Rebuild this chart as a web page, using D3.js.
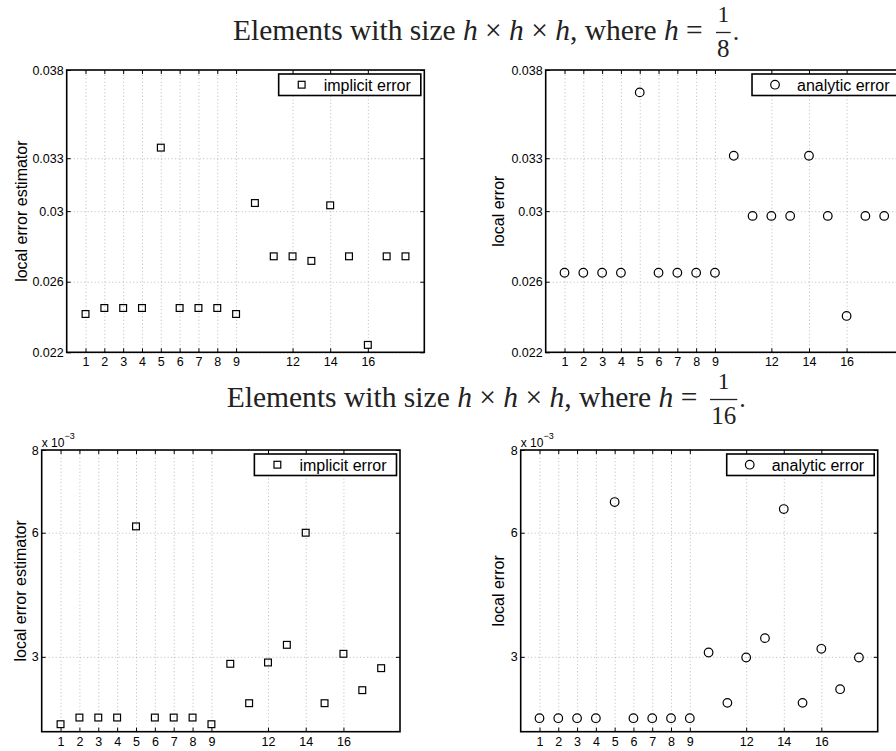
<!DOCTYPE html>
<html>
<head>
<meta charset="utf-8">
<script src="https://cdn.jsdelivr.net/npm/d3@7"></script>
<style>
  body { margin: 0; background: #fff; }
  svg { display: block; }
</style>
</head>
<body>
<div id="chart"></div>
<script>
// ------------------------------------------------------------
// DATA
// ------------------------------------------------------------
const elementIds = [1, 2, 3, 4, 5, 6, 7, 8, 9, 10, 11, 12, 13, 14, 15, 16, 17, 18];

// h = 1/8
const implicitCoarse = [0.02417, 0.02451, 0.02451, 0.02451, 0.0336, 0.02451, 0.02451, 0.02451, 0.02417,
                        0.03046, 0.02744, 0.02744, 0.02718, 0.03033, 0.02744, 0.02242, 0.02744, 0.02744];
const analyticCoarse = [0.02651, 0.02651, 0.02651, 0.02651, 0.03673, 0.02651, 0.02651, 0.02651, 0.02651,
                        0.03314, 0.02973, 0.02973, 0.02973, 0.03314, 0.02973, 0.02406, 0.02973, 0.02973];

// h = 1/16
const implicitFine = [0.001371, 0.001532, 0.001532, 0.001532, 0.006153, 0.001532, 0.001532, 0.001532, 0.001371,
                      0.002831, 0.001879, 0.002863, 0.00329, 0.006, 0.001879, 0.003073, 0.002194, 0.002726];
const analyticFine = [0.001516, 0.001516, 0.001516, 0.001516, 0.006742, 0.001516, 0.001516, 0.001516, 0.001516,
                      0.003105, 0.001887, 0.002984, 0.003452, 0.006573, 0.001887, 0.003194, 0.002218, 0.002984];

const xTickValues = [1, 2, 3, 4, 5, 6, 7, 8, 9, 12, 14, 16];
const xDomain = [0, 19];
const coarseYTicks = [0.022, 0.026, 0.03, 0.033, 0.038];
const coarseDomain = [0.022, 0.038];
const fineYTicks = [0.003, 0.006, 0.008];
const fineDomain = [0.00119, 0.008];

// ------------------------------------------------------------
// SETUP
// ------------------------------------------------------------
const width = 896, height = 751;
const svg = d3.select("#chart").append("svg")
    .attr("width", width)
    .attr("height", height);

const sans = "'Liberation Sans', Arial, Helvetica, sans-serif";
const serif = "'Liberation Serif', 'Times New Roman', serif";

const panels = [
  { x0: 66.7, x1: 424.3, y0: 70, y1: 352.3, values: implicitCoarse, domain: coarseDomain,
    ticks: coarseYTicks, fmt: d => String(d), ylabel: "local error estimator", labelX: 27,
    marker: "square", legend: "implicit error", exponent: false },
  { x0: 545.7, x1: 903, y0: 70, y1: 352.3, values: analyticCoarse, domain: coarseDomain,
    ticks: coarseYTicks, fmt: d => String(d), ylabel: "local error", labelX: 504,
    marker: "circle", legend: "analytic error", exponent: false },
  { x0: 41.7, x1: 400, y0: 450, y1: 731.7, values: implicitFine, domain: fineDomain,
    ticks: fineYTicks, fmt: d => String(Math.round(d * 1000)), ylabel: "local error estimator", labelX: 26,
    marker: "square", legend: "implicit error", exponent: true },
  { x0: 520.7, x1: 877.7, y0: 450, y1: 731.7, values: analyticFine, domain: fineDomain,
    ticks: fineYTicks, fmt: d => String(Math.round(d * 1000)), ylabel: "local error", labelX: 504,
    marker: "circle", legend: "analytic error", exponent: true }
];

// ------------------------------------------------------------
// PANELS
// ------------------------------------------------------------
panels.forEach(p => {
  const x = d3.scaleLinear().domain(xDomain).range([p.x0, p.x1]);
  const y = d3.scaleLinear().domain(p.domain).range([p.y1, p.y0]);
  const w = p.x1 - p.x0, h = p.y1 - p.y0;
  const g = svg.append("g");

  // dotted grid
  g.append("g")
      .attr("transform", `translate(0,${p.y1})`)
      .call(d3.axisBottom(x).tickValues(xTickValues).tickSize(-h).tickFormat(""))
      .call(s => s.select(".domain").remove())
      .selectAll("line")
      .attr("stroke", "#a8a8a8").attr("stroke-width", 0.8).attr("stroke-dasharray", "1,2.5");
  g.append("g")
      .attr("transform", `translate(${p.x0},0)`)
      .call(d3.axisLeft(y).tickValues(p.ticks).tickSize(-w).tickFormat(""))
      .call(s => s.select(".domain").remove())
      .selectAll("line")
      .attr("stroke", "#a8a8a8").attr("stroke-width", 0.8).attr("stroke-dasharray", "1,2.5");

  // axes with inward ticks
  const bottom = g.append("g")
      .attr("transform", `translate(0,${p.y1})`)
      .call(d3.axisBottom(x).tickValues(xTickValues).tickSizeInner(-4).tickSizeOuter(0).tickPadding(5));
  const top = g.append("g")
      .attr("transform", `translate(0,${p.y0})`)
      .call(d3.axisTop(x).tickValues(xTickValues).tickSizeInner(-4).tickSizeOuter(0).tickFormat(""));
  const left = g.append("g")
      .attr("transform", `translate(${p.x0},0)`)
      .call(d3.axisLeft(y).tickValues(p.ticks).tickFormat(p.fmt).tickSizeInner(-4).tickSizeOuter(0).tickPadding(3));
  const right = g.append("g")
      .attr("transform", `translate(${p.x1},0)`)
      .call(d3.axisRight(y).tickValues(p.ticks).tickSizeInner(-4).tickSizeOuter(0).tickFormat(""));

  [bottom, top, left, right].forEach(a => {
    a.select(".domain").remove();
    a.selectAll("line").attr("stroke", "#000").attr("stroke-width", 1);
    a.selectAll("text").attr("font-family", sans).attr("font-size", 12.5).attr("fill", "#000");
  });

  // box
  g.append("rect")
      .attr("x", p.x0).attr("y", p.y0).attr("width", w).attr("height", h)
      .attr("fill", "none").attr("stroke", "#000").attr("stroke-width", 1.6);

  // y label
  g.append("text")
      .attr("transform", `translate(${p.labelX},${(p.y0 + p.y1) / 2}) rotate(-90)`)
      .attr("text-anchor", "middle")
      .attr("font-family", sans).attr("font-size", 16)
      .text(p.ylabel);

  // x 10^-3 multiplier
  if (p.exponent) {
    const t = g.append("text")
        .attr("x", p.x0).attr("y", p.y0 - 3)
        .attr("font-family", sans).attr("font-size", 12);
    t.append("tspan").text("x 10");
    t.append("tspan").attr("dy", -8).attr("font-size", 9).text("−3");
  }

  // markers
  const pts = g.append("g");
  if (p.marker === "square") {
    pts.selectAll("rect").data(p.values).enter().append("rect")
        .attr("x", (d, i) => x(elementIds[i]) - 3.4)
        .attr("y", d => y(d) - 3.4)
        .attr("width", 6.8).attr("height", 6.8)
        .attr("fill", "none").attr("stroke", "#000").attr("stroke-width", 1.2);
  } else {
    pts.selectAll("circle").data(p.values).enter().append("circle")
        .attr("cx", (d, i) => x(elementIds[i]))
        .attr("cy", d => y(d))
        .attr("r", 4.3)
        .attr("fill", "none").attr("stroke", "#000").attr("stroke-width", 1.2);
  }

  // legend
  const lg = g.append("g");
  const box = lg.append("rect");
  const lt = lg.append("text")
      .attr("font-family", sans).attr("font-size", 16)
      .text(p.legend);
  const tw = lt.node().getComputedTextLength();
  const lw = 45 + tw + 10;
  const lx = p.x1 - 3.5 - lw, ly = p.y0 + 4;
  box.attr("x", lx).attr("y", ly).attr("width", lw).attr("height", 21.5)
      .attr("fill", "#fff").attr("stroke", "#000").attr("stroke-width", 1.6);
  lt.attr("x", lx + 45).attr("y", ly + 16.5);
  if (p.marker === "square") {
    lg.append("rect").attr("x", lx + 23 - 3.4).attr("y", ly + 10.7 - 3.4)
        .attr("width", 6.8).attr("height", 6.8)
        .attr("fill", "none").attr("stroke", "#000").attr("stroke-width", 1.2);
  } else {
    lg.append("circle").attr("cx", lx + 23).attr("cy", ly + 10.7).attr("r", 4.3)
        .attr("fill", "none").attr("stroke", "#000").attr("stroke-width", 1.2);
  }
});

// ------------------------------------------------------------
// ROW TITLES (LaTeX-like)
// ------------------------------------------------------------
function rowTitle(xStart, baseline, textWidth, denom, fracX, fracW) {
  const t = svg.append("text")
      .attr("x", xStart).attr("y", baseline)
      .attr("font-family", serif).attr("font-size", 26).attr("fill", "#222");
  const parts = [["Elements with size ", false], ["h", true], [" × ", false], ["h", true],
                 [" × ", false], ["h", true], [", where ", false], ["h", true], [" =", false]];
  parts.forEach(([s, it]) => {
    t.append("tspan").attr("font-style", it ? "italic" : "normal").text(s);
  });
  // scale the font so the sentence spans the same width as in the figure
  const natural = t.node().getComputedTextLength();
  const fs = Math.min(31, 26 * textWidth / natural);
  t.attr("font-size", fs);

  const cx = fracX + fracW / 2;
  const barY = baseline - 7.5;
  svg.append("line")
      .attr("x1", fracX).attr("x2", fracX + fracW)
      .attr("y1", barY).attr("y2", barY)
      .attr("stroke", "#222").attr("stroke-width", 1.3);
  svg.append("text").attr("x", cx).attr("y", barY - 11)
      .attr("text-anchor", "middle")
      .attr("font-family", serif).attr("font-size", 23.5).attr("fill", "#222")
      .text("1");
  svg.append("text").attr("x", cx).attr("y", barY + 24.5)
      .attr("text-anchor", "middle")
      .attr("font-family", serif).attr("font-size", 25).attr("fill", "#222")
      .text(denom);
  svg.append("text").attr("x", fracX + fracW + 2).attr("y", baseline)
      .attr("font-family", serif).attr("font-size", 26).attr("fill", "#222")
      .text(".");
}

rowTitle(233, 40, 470, "8", 716, 14.7);
rowTitle(226.7, 407, 471, "16", 710, 27.3);
</script>
</body>
</html>
